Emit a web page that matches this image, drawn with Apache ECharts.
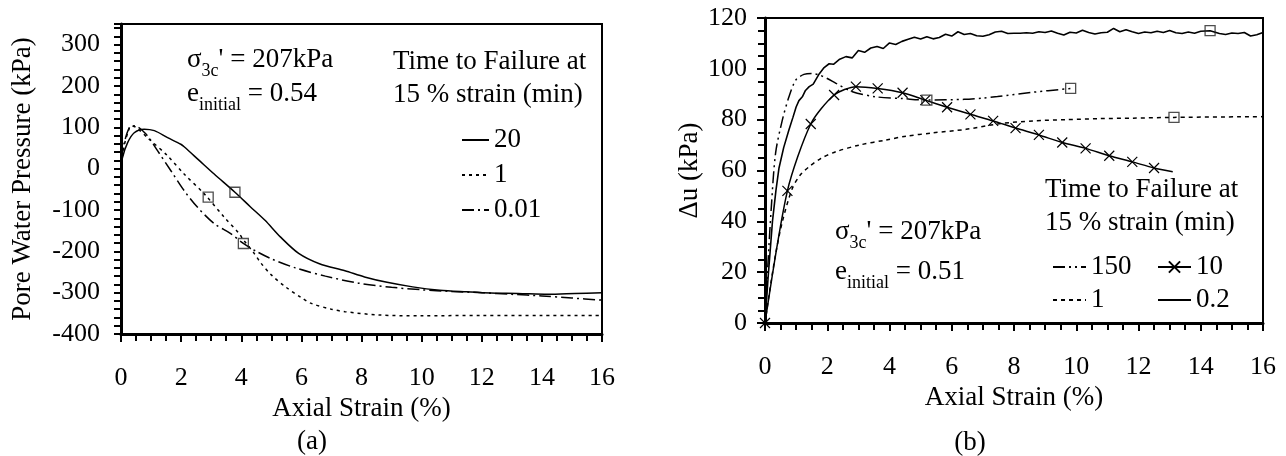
<!DOCTYPE html>
<html>
<head>
<meta charset="utf-8">
<script src="https://cdn.jsdelivr.net/npm/echarts@6/dist/echarts.min.js"></script>
<style>
  html, body { margin: 0; padding: 0; background: #fff; }
  #chart { width: 1286px; height: 456px; }
</style>
</head>
<body>
<div id="chart"></div>
<script>
// ---- Panel (a): pore water pressure (kPa) vs axial strain (%) ----
const pwp20 = [[0,0],[0.05,27],[0.22,63],[0.44,87],[0.77,95.6],[1.11,92],[1.55,75],[1.99,59],[2.1,53],
  [2.6,20],[3.1,-13],[3.79,-57],[4.3,-92],[4.79,-125],[5.3,-165],[5.91,-205],[6.6,-230],[7.45,-247],
  [8.1,-262],[8.85,-275],[9.7,-286],[10.6,-294],[11.5,-298],[12.3,-301],[13.2,-302],[14.2,-304],[15.1,-302],[16,-300]];
const pwp1 = [[0,10],[0.12,60],[0.25,92],[0.33,103.6],[0.5,100],[0.88,75],[1.55,31],[2.1,-13],[2.77,-61],
  [3.43,-117],[3.93,-157],[4.07,-172],[4.43,-205],[4.65,-228],[5.0,-257],[5.49,-287],[6.0,-312],[6.33,-326],
  [7.0,-340],[7.45,-346],[8.57,-354],[10,-356],[12,-355],[14,-355],[16,-355]];
const pwp001 = [[0,20],[0.11,63],[0.28,99.6],[0.44,103.6],[0.83,83.6],[1.22,43],[1.66,-5],[2.1,-53],[2.54,-93],
  [3.1,-133],[3.65,-157],[4.07,-181],[4.5,-200],[5.0,-218],[5.8,-240],[6.8,-260],[7.9,-277],[9,-287],[10,-293],
  [11,-297],[12,-300],[13,-304],[14,-308],[15,-313],[16,-318]];
const pwpFailure = [[3.79,-57],[2.9,-69],[4.07,-181]];
const pwpLegend = ['a:20','a:1','a:0.01'];

// ---- Panel (b): excess pore pressure Δu (kPa) vs axial strain (%) ----
const du150 = [[0,0],[0.08,20],[0.2,45],[0.34,66.8],[0.56,80],[0.77,89],[0.99,95.6],[1.25,97.8],[1.5,98.2],
  [1.74,97.6],[2.0,96.2],[2.28,94.3],[2.81,91],[3.56,89],[4.42,88.3],[5.2,87.7],[6.4,88],[7.0,88.5],[7.47,89.1],
  [8.54,90.7],[9.82,92.3]];
const du10 = [[0,0],[0.72,52],[1.47,78.3],[2.22,89.7],[2.92,93],[3.62,92.3],[4.42,90.6],[5.15,87.7],[5.85,84.9],
  [6.6,82.1],[7.33,79.5],[8.05,76.7],[8.8,74],[9.55,71],[10.3,68.7],[11.06,65.8],[11.8,63.4],[12.5,61]];
const du10End = [13.1,59.5];
const du1 = [[0,0],[0.13,11],[0.34,27],[0.56,40],[0.88,53],[1.15,58.5],[1.42,61.5],[1.8,64.8],[2.28,67.4],
  [3.03,70],[3.89,72],[4.53,73.5],[5.39,74.8],[6.46,76.2],[7.53,78.4],[8.6,79.5],[9.68,80],[10.75,80.4],
  [11.83,80.6],[13.14,80.9],[16,81.2]];
const du02 = [[0,0],[0.1,18],[0.24,40],[0.35,52],[0.45,61],[0.6,69],[0.77,76],[0.9,81],[1.0,85],[1.09,87.5],
  [1.2,89],[1.3,91.5],[1.42,93],[1.55,94],[1.74,98],[1.9,100.5],[2.06,102],[2.2,101.8],[2.4,103.8],[2.6,104.8],
  [2.8,104.3],[3.0,107.2],[3.2,106.5],[3.4,108.2],[3.6,108.8],[3.8,108.0],[4.0,110.2],[4.2,109.6],[4.4,110.8],
  [4.6,111.6],[4.8,112.4],[5.0,111.7],[5.2,112.6],[5.4,111.8],[5.6,112.3],[5.8,113.6],[6.0,112.9],[6.2,114.6],
  [6.4,113.5],[6.6,113.9],[6.8,113.0],[7.0,112.8],[7.2,113.4],[7.4,114.5],[7.6,114.8],[7.8,113.9],[8.0,114.0],
  [8.2,114.0],[8.4,114.2],[8.6,114.0],[8.8,114.6],[9.0,114.3],[9.2,114.9],[9.4,114.0],[9.6,113.3],[9.8,114.4],
  [10.0,114.1],[10.2,115.2],[10.4,114.3],[10.6,113.7],[10.8,114.2],[11.0,114.4],[11.2,115.9],[11.4,114.6],
  [11.6,115.4],[11.8,114.6],[12.0,113.9],[12.2,114.5],[12.4,114.2],[12.6,114.8],[12.8,114.3],[13.0,115.1],
  [13.2,114.2],[13.4,113.9],[13.6,114.5],[13.8,114.0],[14.0,114.8],[14.3,115.0],[14.6,113.9],[14.8,113.5],
  [15.0,114.1],[15.2,113.9],[15.4,114.3],[15.6,112.9],[15.8,113.4],[16.0,114.3]];
const duFailure = [[14.3,115],[9.82,92.3],[5.2,87.7],[13.14,80.9]];
const duLegendLeft = ['b:150','b:1'];
const duLegendCross = ['b:10'];
const duLegendSolid = ['b:0.2'];

const strainRange = [0, 16];
const pwpRange = [-400, 350];
const duRange = [0, 120];

const FONT = '"Liberation Serif", "Times New Roman", "DejaVu Serif", serif';
const INK = '#000';

const DOTTED = [3, 4];
const DASH_DOT = [12, 4, 2, 4];
const DASH_DOT_DOT = [12, 4, 2, 4, 2, 4];
const CROSS = 'path://M0,0L10,10M10,0L0,10';

function strainAxis(gridIndex, nameGap) {
  return {
    type: 'value', gridIndex, min: strainRange[0], max: strainRange[1], interval: 2,
    name: 'Axial Strain (%)', nameLocation: 'middle', nameGap,
    nameTextStyle: { fontFamily: FONT, fontSize: 27, color: INK },
    axisLine: { onZero: false, lineStyle: { color: INK, width: 3 } },
    axisTick: { show: true, inside: false, length: 8, lineStyle: { color: INK, width: 2 } },
    minorTick: { show: true, splitNumber: 4, length: 7, lineStyle: { color: INK, width: 2 } },
    axisLabel: { margin: 31, fontFamily: FONT, fontSize: 26, color: INK },
    splitLine: { show: false }, minorSplitLine: { show: false }
  };
}

function line(name, data, xi, dash, extra) {
  return Object.assign({
    type: 'line', name, data, xAxisIndex: xi, yAxisIndex: xi,
    smooth: 0.3, showSymbol: false, symbol: 'none',
    lineStyle: { color: INK, width: 1.5, type: dash },
    itemStyle: { color: INK },
    z: 3, silent: true
  }, extra || {});
}

function squares(name, data, xi) {
  return {
    type: 'scatter', name, data, xAxisIndex: xi, yAxisIndex: xi,
    symbol: 'rect', symbolSize: 10,
    itemStyle: { color: 'rgba(0,0,0,0)', borderColor: '#222', borderWidth: 1.3 },
    z: 6, silent: true
  };
}

// Legend entries show the line pattern only; the cross series keeps its marker.
function legendBox(data, left, top, itemWidth, itemGap, keepMarker) {
  const box = {
    data, left, top, orient: 'vertical', itemWidth, itemHeight: 14, itemGap,
    selectedMode: false, padding: 0,
    formatter: n => n.slice(2),
    textStyle: { fontFamily: FONT, fontSize: 27, color: INK, lineHeight: 28 }
  };
  if (!keepMarker) box.itemStyle = { opacity: 0, borderWidth: 0, color: 'rgba(0,0,0,0)' };
  return box;
}

const rich = {
  m: { fontFamily: FONT, fontSize: 27, lineHeight: 40, fill: INK, color: INK },
  s: { fontFamily: FONT, fontSize: 18, lineHeight: 18, verticalAlign: 'bottom', fill: INK, color: INK }
};

function note(x, y, text, useRich) {
  const style = {
    text, x, y, fill: INK, fontFamily: FONT, fontSize: 27,
    align: 'left', verticalAlign: 'middle', textAlign: 'left', textVerticalAlign: 'middle'
  };
  if (useRich) style.rich = rich;
  return { type: 'text', silent: true, style };
}

function caption(x, y, text) {
  return { type: 'text', silent: true, style: {
    text, x, y, fill: INK, fontFamily: FONT, fontSize: 27,
    align: 'center', verticalAlign: 'middle', textAlign: 'center', textVerticalAlign: 'middle' } };
}

const chart = echarts.init(document.getElementById('chart'), null, { renderer: 'canvas' });

chart.setOption({
  animation: false,
  backgroundColor: '#fff',
  grid: [
    { left: 121, top: 24, width: 481, height: 310, show: true, borderColor: INK, borderWidth: 2,
      containLabel: false, outerBoundsMode: 'none' },
    { left: 765, top: 18, width: 498, height: 305, show: true, borderColor: INK, borderWidth: 2,
      containLabel: false, outerBoundsMode: 'none' }
  ],
  xAxis: [ strainAxis(0, 54), strainAxis(1, 59) ],
  yAxis: [
    {
      type: 'value', gridIndex: 0, min: pwpRange[0], max: pwpRange[1], interval: 20,
      name: 'Pore Water Pressure (kPa)', nameLocation: 'middle', nameGap: 85,
      nameTextStyle: { fontFamily: FONT, fontSize: 27, color: INK },
      axisLine: { onZero: false, lineStyle: { color: INK, width: 3 } },
      axisTick: { show: true, inside: false, length: 7, lineStyle: { color: INK, width: 2 } },
      minorTick: { show: false },
      axisLabel: { margin: 21, fontFamily: FONT, fontSize: 26, color: INK,
        formatter: v => (Math.round(v) % 100 === 0 && v < 350) ? String(Math.round(v)) : '' },
      splitLine: { show: false }
    },
    {
      type: 'value', gridIndex: 1, min: duRange[0], max: duRange[1], interval: 20,
      name: 'Δu (kPa)', nameLocation: 'middle', nameGap: 62,
      nameTextStyle: { fontFamily: FONT, fontSize: 27, color: INK },
      axisLine: { onZero: false, lineStyle: { color: INK, width: 3 } },
      axisTick: { show: true, inside: false, length: 8, lineStyle: { color: INK, width: 2 } },
      minorTick: { show: true, splitNumber: 4, length: 7, lineStyle: { color: INK, width: 2 } },
      axisLabel: { margin: 18, fontFamily: FONT, fontSize: 26, color: INK },
      splitLine: { show: false }
    }
  ],
  legend: [
    legendBox(pwpLegend, 461, 126, 27, 7, false),
    legendBox(duLegendLeft, 1052, 253, 33, 5, false),
    legendBox(duLegendCross, 1157, 253, 33, 5, true),
    legendBox(duLegendSolid, 1157, 286, 33, 5, false)
  ],
  graphic: [
    note(187, 60, '{m|σ}{s|3c}{m|\' = 207kPa}', true),
    note(187, 94, '{m|e}{s|initial}{m| = 0.54}', true),
    note(393, 62, 'Time to Failure at'),
    note(393, 95, '15 % strain (min)'),
    note(835, 232, '{m|σ}{s|3c}{m|\' = 207kPa}', true),
    note(835, 272, '{m|e}{s|initial}{m| = 0.51}', true),
    note(1045, 190, 'Time to Failure at'),
    note(1045, 223, '15 % strain (min)'),
    caption(312, 442, '(a)'),
    caption(970, 443, '(b)')
  ],
  series: [
    line('a:20', pwp20, 0, 'solid'),
    line('a:1', pwp1, 0, DOTTED),
    line('a:0.01', pwp001, 0, DASH_DOT),
    squares('a:failure', pwpFailure, 0),

    line('b:150', du150, 1, DASH_DOT_DOT),
    line('b:10', du10.concat([{ value: du10End, symbol: 'none' }]), 1, 'solid', {
      smooth: 0.25, showSymbol: true, showAllSymbol: true, symbol: CROSS, symbolSize: 10,
      itemStyle: { color: INK, borderColor: INK, borderWidth: 1.2 }
    }),
    line('b:1', du1, 1, [4, 4]),
    line('b:0.2', du02, 1, 'solid', { smooth: false, lineStyle: { color: INK, width: 1.6, type: 'solid' } }),
    squares('b:failure', duFailure, 1)
  ]
});
</script>
</body>
</html>
